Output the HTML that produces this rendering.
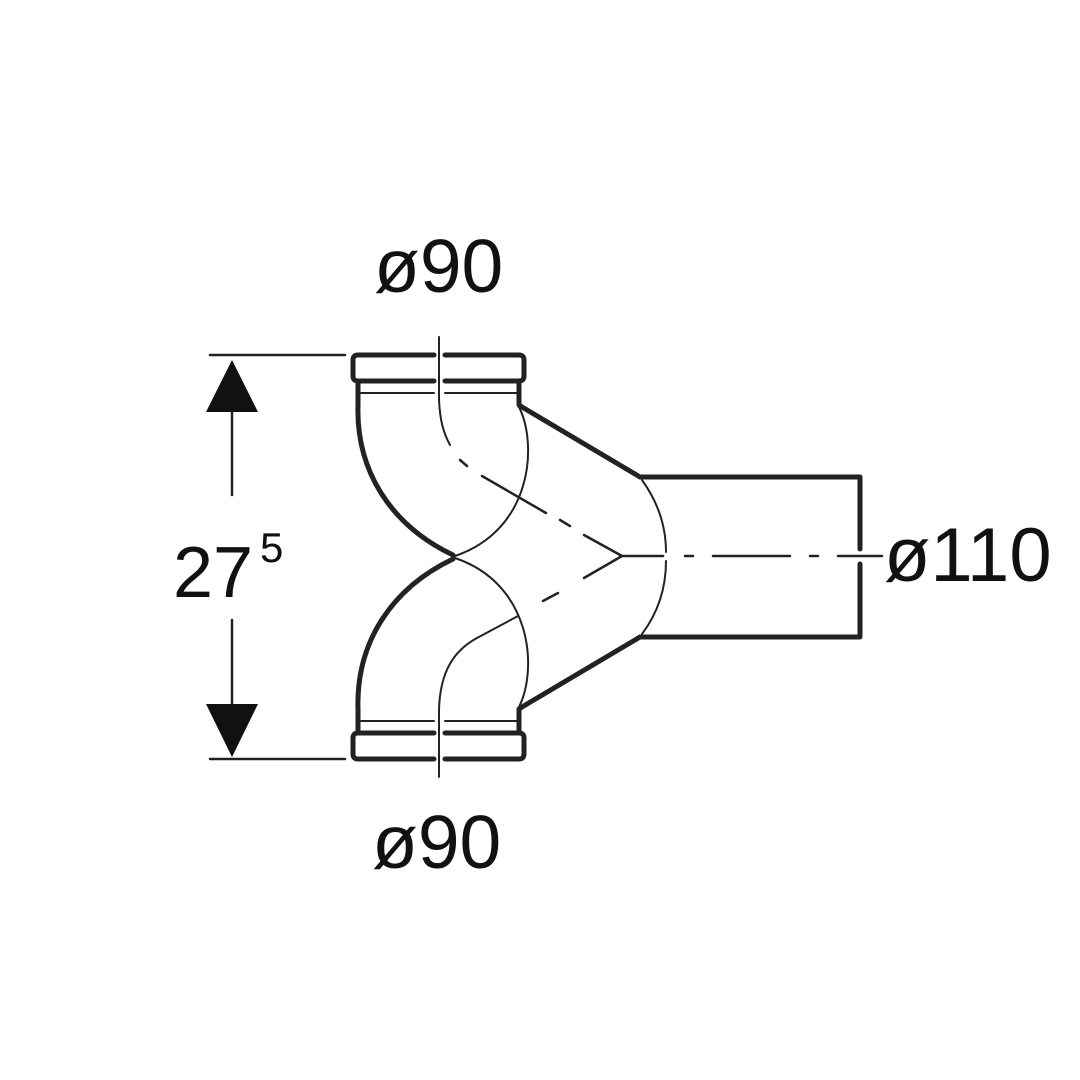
<!DOCTYPE html>
<html><head><meta charset="utf-8"><style>
html,body{margin:0;padding:0;background:#fff;}
svg{display:block}
text{font-family:"Liberation Sans",sans-serif;fill:#111}
</style></head><body>
<svg width="1080" height="1080" viewBox="0 0 1080 1080" xmlns="http://www.w3.org/2000/svg">
<g fill="none" stroke="#222" stroke-linecap="round" stroke-linejoin="round">
<g id="top">
<path d="M434,355 H358 Q353,355 353,360 V376 Q353,381 358,381 H434" stroke-width="5"/>
<path d="M445,355 H519 Q524,355 524,360 V376 Q524,381 519,381 H445" stroke-width="5"/>
<path d="M361,393 H434 M445,393 H517" stroke-width="2"/>
<path d="M358,381 V405 C356,470 390,525 453,555" stroke-width="5"/>
<path d="M519,381 V405 L522,407 L640,477" stroke-width="5"/>
<path d="M519,407 C538,445 532,530 455,556" stroke-width="2"/>
</g>
<use href="#top" transform="matrix(1,0,0,-1,0,1114)"/>
<path d="M439,337 V400 C440,420 443,432 450,445" stroke-width="2"/>
<path d="M439,777 V710 C440,670 455,650 477,638 L518,616" stroke-width="2"/>
<path d="M460,460 L467,466 M482,476 L546,513 M560,520 L570,526 M584,535 L622,556 L584,578 M543,601 L558,593" stroke-width="2.5"/>
<path d="M622,556 H663 M685,556 H693 M713,556 H790 M810,556 H818 M838,556 H882" stroke-width="2.5"/>
<path d="M640,477 H860 V549 M860,564 V637 H640" stroke-width="5"/>
<path d="M642,480 C660,505 666,530 666,552 M666,561 C666,585 660,610 642,634" stroke-width="2"/>
<path d="M210,355 H345 M210,759 H345 M232,412 V495 M232,620 V705" stroke-width="2.5"/>
</g>
<polygon points="232,360 206,412 258,412" fill="#111"/>
<polygon points="232,757 206,704 258,704" fill="#111"/>
<text x="173" y="597" font-size="72">27</text>
<text x="260" y="562" font-size="42">5</text>
<text x="374" y="292" font-size="75">ø90</text>
<text x="372" y="868" font-size="75">ø90</text>
<text x="884" y="581" font-size="76">ø110</text>
</svg>
</body></html>
